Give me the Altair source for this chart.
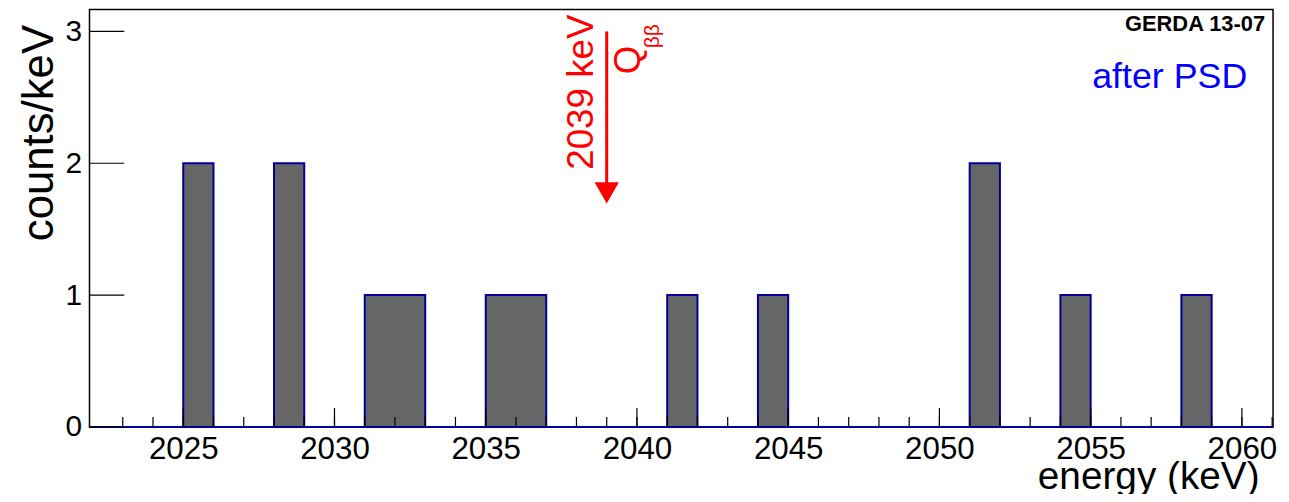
import altair as alt
import pandas as pd

# Histogram contents (adjacent 1-keV bins with equal content merged into blocks)
bin_lo = [2025, 2028, 2031, 2035, 2041, 2044, 2051, 2054, 2058]
bin_hi = [2026, 2029, 2033, 2037, 2042, 2045, 2052, 2055, 2059]
counts = [2, 2, 1, 1, 1, 1, 2, 1, 1]

# Axes
x_domain = [2021.9, 2061.03]
y_domain = [0, 3.166]
x_label_values = [2025, 2030, 2035, 2040, 2045, 2050, 2055, 2060]
x_minor_ticks = [2023, 2024, 2025, 2026, 2027, 2028, 2029, 2030, 2031, 2032,
                 2033, 2034, 2035, 2036, 2037, 2038, 2039, 2040, 2041, 2042,
                 2043, 2044, 2045, 2046, 2047, 2048, 2049, 2050, 2051, 2052,
                 2053, 2054, 2055, 2056, 2057, 2058, 2059, 2060, 2061]
y_label_values = [0, 1, 2, 3]

# Q_bb annotation
qbb_energy = [2039]
arrow_top = [3.0]
arrow_shaft_end = [1.85]
arrow_head = [1.775]
qbb_label = ["2039 keV"]

W, H = 1191, 420
FONT = "Liberation Sans"

xs = alt.Scale(domain=x_domain, zero=False, nice=False)
ys = alt.Scale(domain=y_domain, zero=False, nice=False)

hist = pd.DataFrame({"lo": bin_lo, "hi": bin_hi, "count": counts})
ann = pd.DataFrame({"e": qbb_energy, "top": arrow_top, "end": arrow_shaft_end,
                    "head": arrow_head, "label": qbb_label})

x_axis = alt.Axis(values=x_label_values, format="d", ticks=False, tickSize=0, domain=False,
                  grid=False, labelFontSize=31.5, labelPadding=7, labelColor="black",
                  labelFont=FONT, title="energy (keV)", titleFontSize=39,
                  titleFontWeight="normal", titleFont=FONT, titleColor="black",
                  titleAlign="right", titleBaseline="alphabetic", titleX=1177, titleY=62,
                  titleAnchor="end")
y_axis = alt.Axis(values=y_label_values, format="d", ticks=False, tickSize=0, domain=False,
                  grid=False, labelFontSize=30, labelPadding=8, labelColor="black",
                  labelFont=FONT, title="counts/keV", titleFontSize=44,
                  titleFontWeight="normal", titleFont=FONT, titleColor="black",
                  titleAngle=270, titleAlign="right", titleBaseline="alphabetic",
                  titleX=-37, titleY=15, titleAnchor="end")


def X(field):
    return alt.X(field, scale=xs, axis=x_axis)


def Y(field):
    return alt.Y(field, scale=ys, axis=y_axis)


bars = alt.Chart(hist).mark_rect(fill="#666666", stroke="#000099", strokeWidth=2).encode(
    x=X("lo:Q"), x2="hi:Q", y=Y("count:Q"), y2=alt.datum(0))

baseline = alt.Chart(pd.DataFrame({"v": [0]})).mark_rule(color="#000099", strokeWidth=2).encode(
    y=Y("v:Q"), x=alt.value(0), x2=alt.value(W))

minor = alt.Chart(pd.DataFrame({"t": x_minor_ticks})).mark_rule(color="black", strokeWidth=1.2).encode(
    x=X("t:Q"), y=alt.value(H), y2=alt.value(H - 10))
major = alt.Chart(pd.DataFrame({"t": x_label_values})).mark_rule(color="black", strokeWidth=1.2).encode(
    x=X("t:Q"), y=alt.value(H), y2=alt.value(H - 19))
yticks = alt.Chart(pd.DataFrame({"t": y_label_values})).mark_rule(color="black", strokeWidth=1.2).encode(
    y=Y("t:Q"), x=alt.value(0), x2=alt.value(35))

shaft = alt.Chart(ann).mark_rule(color="#ff0000", strokeWidth=3).encode(
    x=X("e:Q"), y=Y("top:Q"), y2="end:Q")
head = alt.Chart(ann).mark_point(shape="triangle-down", filled=True, color="#ff0000",
                                 size=600, opacity=1).encode(x=X("e:Q"), y=Y("head:Q"))

lab = alt.Chart(ann).mark_text(color="#ff0000", font=FONT, fontSize=37, angle=270,
                               align="right", baseline="middle", dx=17, dy=-25).encode(
    x=X("e:Q"), y=Y("top:Q"), text="label:N")
qlab = alt.Chart(ann).mark_text(color="#ff0000", font=FONT, fontSize=37, angle=270,
                                align="left", baseline="middle", dx=-43, dy=23).encode(
    x=X("e:Q"), y=Y("top:Q"), text=alt.value("Q"))
bblab = alt.Chart(ann).mark_text(color="#ff0000", font=FONT, fontSize=21, angle=270,
                                 align="left", baseline="middle", dx=-17, dy=47).encode(
    x=X("e:Q"), y=Y("top:Q"), text=alt.value("ββ"))

gerda = alt.Chart(pd.DataFrame({"s": ["GERDA 13-07"]})).mark_text(
    font=FONT, fontSize=22, fontWeight="bold", color="black", align="right",
    baseline="alphabetic").encode(x=alt.value(1273 - 90), y=alt.value(30 - 8), text="s:N")
psd = alt.Chart(pd.DataFrame({"s": ["after PSD"]})).mark_text(
    font=FONT, fontSize=36, color="#0000ff", align="right",
    baseline="alphabetic").encode(x=alt.value(1255 - 90), y=alt.value(87 - 8), text="s:N")

chart = alt.layer(bars, baseline, minor, major, yticks, shaft, head, lab, qlab, bblab, gerda, psd).properties(
    width=W, height=H,
    autosize=alt.AutoSizeParams(type="none"),
    padding={"left": 82, "top": 0, "right": 8, "bottom": 66},
).configure(font=FONT, background="white",
            view=alt.ViewConfig(stroke="black", strokeWidth=1.5))

chart.save("out.html", embed_options={"renderer": "svg", "actions": False})
